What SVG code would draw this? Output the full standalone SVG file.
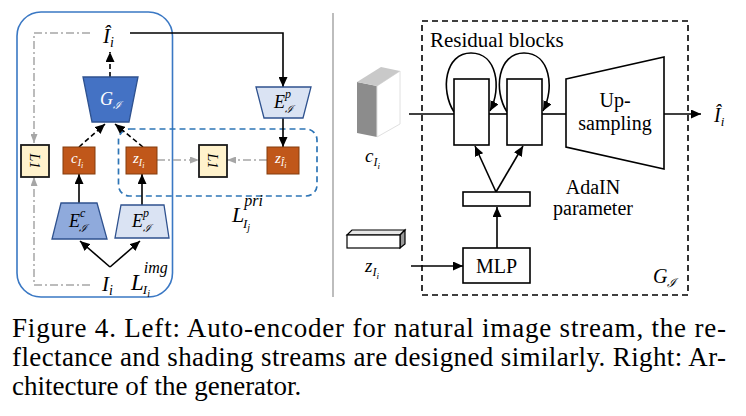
<svg xmlns="http://www.w3.org/2000/svg" width="746" height="416" viewBox="0 0 746 416">
<style>
.m{font-family:"Liberation Serif","DejaVu Serif",serif;font-style:italic}
.s{font-family:"DejaVu Serif","Liberation Serif",serif;font-style:italic}
.r{font-family:"Liberation Serif","DejaVu Serif",serif}
.blk{stroke:#000;stroke-width:1.6;fill:none}
.dsh{stroke:#000;stroke-width:1.6;fill:none;stroke-dasharray:5 3}
.gry{stroke:#A6A6A6;stroke-width:1.5;fill:none;stroke-dasharray:8 3 2 3}
.box{fill:#C0571A;stroke:#843C0C;stroke-width:1}
.l1{fill:#FFF2CC;stroke:#1a1a1a;stroke-width:1.8}
.wb{fill:#fff;stroke:#000;stroke-width:1.6}
.cap{font-family:"Liberation Serif",serif;font-size:27px;fill:#000}
</style>
<defs>
<marker id="ah" markerUnits="userSpaceOnUse" markerWidth="10" markerHeight="9" refX="10" refY="4.5" orient="auto"><path d="M0,0 L10,4.5 L0,9 z" fill="#000"/></marker>
<marker id="ahg" markerUnits="userSpaceOnUse" markerWidth="9" markerHeight="7" refX="9" refY="3.5" orient="auto"><path d="M0,0 L9,3.5 L0,7 z" fill="#A6A6A6"/></marker>
</defs>
<rect width="746" height="416" fill="#fff"/>

<!-- left panel frames -->
<g id="frame-left">
<rect x="17" y="12" width="155.5" height="285" rx="24" fill="none" stroke="#3A78C4" stroke-width="1.6"/>
<rect x="118.5" y="129" width="198.5" height="67" rx="11" fill="none" stroke="#2E75B6" stroke-width="1.7" stroke-dasharray="6 4"/>
</g>
<line id="separator" x1="333" y1="13" x2="333" y2="297" stroke="#9a9a9a" stroke-width="1.3"/>

<g id="connectors">
<polyline class="blk" points="130,33 283,33 283,87" marker-end="url(#ah)"/>
<line class="blk" x1="283" y1="118" x2="283" y2="147" marker-end="url(#ah)"/>
<line class="blk" x1="79" y1="203" x2="79" y2="174" marker-end="url(#ah)"/>
<line class="blk" x1="142" y1="205" x2="142" y2="174" marker-end="url(#ah)"/>
<line class="blk" x1="110" y1="267" x2="80" y2="241" marker-end="url(#ah)"/>
<line class="blk" x1="110" y1="267" x2="140" y2="241" marker-end="url(#ah)"/>
<line class="dsh" x1="110" y1="77" x2="110" y2="52" marker-end="url(#ah)"/>
<line class="dsh" x1="79" y1="147" x2="105" y2="124" marker-end="url(#ah)"/>
<line class="dsh" x1="143" y1="147" x2="115" y2="124" marker-end="url(#ah)"/>
<polyline class="gry" points="90,33 34,33 34,143" marker-end="url(#ahg)"/>
<polyline class="gry" points="90,285 34,285 34,177" marker-end="url(#ahg)"/>
<line class="gry" x1="157" y1="160" x2="199" y2="160" marker-end="url(#ahg)"/>
<line class="gry" x1="267" y1="160" x2="227" y2="160" marker-end="url(#ahg)"/>
<!-- right panel -->
<line class="blk" x1="409" y1="114" x2="454" y2="114"/>
<line class="blk" x1="489" y1="114" x2="507" y2="114"/>
<line class="blk" x1="542" y1="114" x2="566" y2="114"/>
<line class="blk" x1="664" y1="114" x2="701" y2="114" marker-end="url(#ah)"/>
<path class="blk" d="M454,112 C440,90 445,53 471,53 C497,53 502,88 490,111" marker-end="url(#ah)"/>
<path class="blk" d="M507,112 C493,90 498,53 524,53 C550,53 555,88 543,111" marker-end="url(#ah)"/>
<line class="blk" x1="496" y1="192" x2="475" y2="146" marker-end="url(#ah)"/>
<line class="blk" x1="496" y1="192" x2="523" y2="146" marker-end="url(#ah)"/>
<line class="blk" x1="497" y1="248" x2="497" y2="207" marker-end="url(#ah)"/>
<line class="blk" x1="411" y1="266" x2="463" y2="266" marker-end="url(#ah)"/>
</g>

<!-- left nodes -->
<g id="I-hat"><text class="m" x="103" y="43" font-size="21">Î<tspan font-size="14" dy="4">i</tspan></text></g>
<g id="G">
<polygon points="83,77 138,77 129,122 92,122" fill="#4472C4" stroke="#2F528F" stroke-width="1.3"/>
<text class="m" x="100" y="105" font-size="18" fill="#fff">G<tspan class="s" font-size="11" dy="4">ℐ</tspan></text>
</g>
<g id="L1-left"><rect class="l1" x="21" y="145" width="28" height="32"/><text class="r" font-size="14" transform="translate(30,161) rotate(90)" text-anchor="middle" font-style="italic">L1</text></g>
<g id="c-box"><rect class="box" x="63" y="147" width="32" height="27"/><text class="m" x="71" y="163" font-size="15" fill="#fff">c<tspan font-size="10" dy="3">I</tspan><tspan font-size="8" dy="2">i</tspan></text></g>
<g id="z-box"><rect class="box" x="126" y="147" width="31" height="27"/><text class="m" x="133" y="163" font-size="15" fill="#fff">z<tspan font-size="10" dy="3">I</tspan><tspan font-size="8" dy="2">i</tspan></text></g>
<g id="Ec">
<polygon points="61,203 97,203 107,239 52,239" fill="#8FAADC" stroke="#2F528F" stroke-width="1.3"/>
<text class="m" x="69" y="227" font-size="18">E<tspan font-size="12" dy="-10">c</tspan><tspan class="s" font-size="11" dx="-6" dy="15">ℐ</tspan></text>
</g>
<g id="Ep-low">
<polygon points="121,205 164,205 169,238 115,238" fill="#DAE3F3" stroke="#2F528F" stroke-width="1.3"/>
<text class="m" x="132" y="227" font-size="18">E<tspan font-size="12" dy="-10">p</tspan><tspan class="s" font-size="11" dx="-6" dy="15">ℐ</tspan></text>
</g>
<g id="I-i"><text class="m" x="102" y="291" font-size="21">I<tspan font-size="14" dy="4">i</tspan></text></g>
<g id="L-img"><text class="m" x="131" y="290" font-size="23">L<tspan font-size="16" dy="-17">img</tspan><tspan font-size="13" dx="-25" dy="21">I</tspan><tspan font-size="10" dy="3">i</tspan></text></g>
<g id="Ep-top">
<polygon points="256,87 311,87 303,118 264,118" fill="#DAE3F3" stroke="#2F528F" stroke-width="1.3"/>
<text class="m" x="274" y="108" font-size="18">E<tspan font-size="12" dy="-10">p</tspan><tspan class="s" font-size="11" dx="-6" dy="15">ℐ</tspan></text>
</g>
<g id="L1-mid"><rect class="l1" x="199" y="145" width="28" height="32"/><text class="r" font-size="14" transform="translate(208,161) rotate(90)" text-anchor="middle" font-style="italic">L1</text></g>
<g id="zhat-box"><rect class="box" x="267" y="147" width="32" height="27"/><text class="m" x="275" y="163" font-size="15" fill="#fff">z<tspan font-size="10" dy="3">Î</tspan><tspan font-size="8" dy="2">i</tspan></text></g>
<g id="L-pri"><text class="m" x="232" y="222" font-size="22">L<tspan font-size="16" dy="-16">pri</tspan><tspan font-size="13" dx="-20" dy="22">I</tspan><tspan font-size="10" dy="3">j</tspan></text></g>

<!-- right nodes -->
<g id="generator-frame"><rect x="422" y="21" width="266" height="274" fill="none" stroke="#000" stroke-width="1.6" stroke-dasharray="6 4"/>
<text class="m" x="653" y="283" font-size="20">G<tspan class="s" font-size="12" dy="4">ℐ</tspan></text></g>
<g id="residual-label"><text class="r" x="430" y="47" font-size="21">Residual blocks</text></g>
<g id="res1"><rect class="wb" x="454" y="79" width="35" height="66"/></g>
<g id="res2"><rect class="wb" x="507" y="79" width="35" height="66"/></g>
<g id="upsampling">
<polygon class="wb" points="566,79 664,57 664,169 566,147"/>
<text class="r" x="615" y="107" font-size="20" text-anchor="middle">Up-</text>
<text class="r" x="615" y="130" font-size="20" text-anchor="middle">sampling</text>
</g>
<g id="I-hat-out"><text class="m" x="714" y="122" font-size="20">Î<tspan font-size="13" dy="4">i</tspan></text></g>
<g id="adain"><rect class="wb" x="463" y="192" width="67" height="14"/>
<text class="r" x="593" y="194" font-size="20" text-anchor="middle">AdaIN</text>
<text class="r" x="593" y="215" font-size="20" text-anchor="middle">parameter</text></g>
<g id="mlp"><rect class="wb" x="463" y="248" width="67" height="35"/><text class="r" x="496.5" y="273" font-size="20" text-anchor="middle">MLP</text></g>
<g id="c-cube">
<polygon points="357,82 377,86 377,137 357,133" fill="#8C8C8C"/>
<polygon points="377,86 400,71 400,124 377,137" fill="#fff" stroke="#e0e0e0" stroke-width="1"/>
<polygon points="357,82 381,67 400,71 377,86" fill="#C9C9C9"/>
<text class="m" x="365" y="162" font-size="19">c<tspan font-size="12" dy="4">I</tspan><tspan font-size="9" dy="3">i</tspan></text>
</g>
<g id="z-bar">
<polygon points="347,235 352,230 405,230 400,235" fill="#e6e6e6" stroke="#000" stroke-width="1.2"/>
<polygon points="400,235 405,230 405,244 400,248" fill="#999" stroke="#000" stroke-width="1.2"/>
<rect x="347" y="235" width="53" height="13" fill="#fff" stroke="#000" stroke-width="1.2"/>
<text class="m" x="365" y="272" font-size="19">z<tspan font-size="12" dy="4">I</tspan><tspan font-size="9" dy="3">i</tspan></text>
</g>

<g id="caption">
<text class="cap" x="12" y="337" textLength="714" lengthAdjust="spacing">Figure 4. Left:  Auto-encoder for natural image stream, the re-</text>
<text class="cap" x="12" y="366" textLength="714" lengthAdjust="spacing">flectance and shading streams are designed similarly.  Right: Ar-</text>
<text class="cap" x="12" y="395">chitecture of the generator.</text>
</g>
</svg>
